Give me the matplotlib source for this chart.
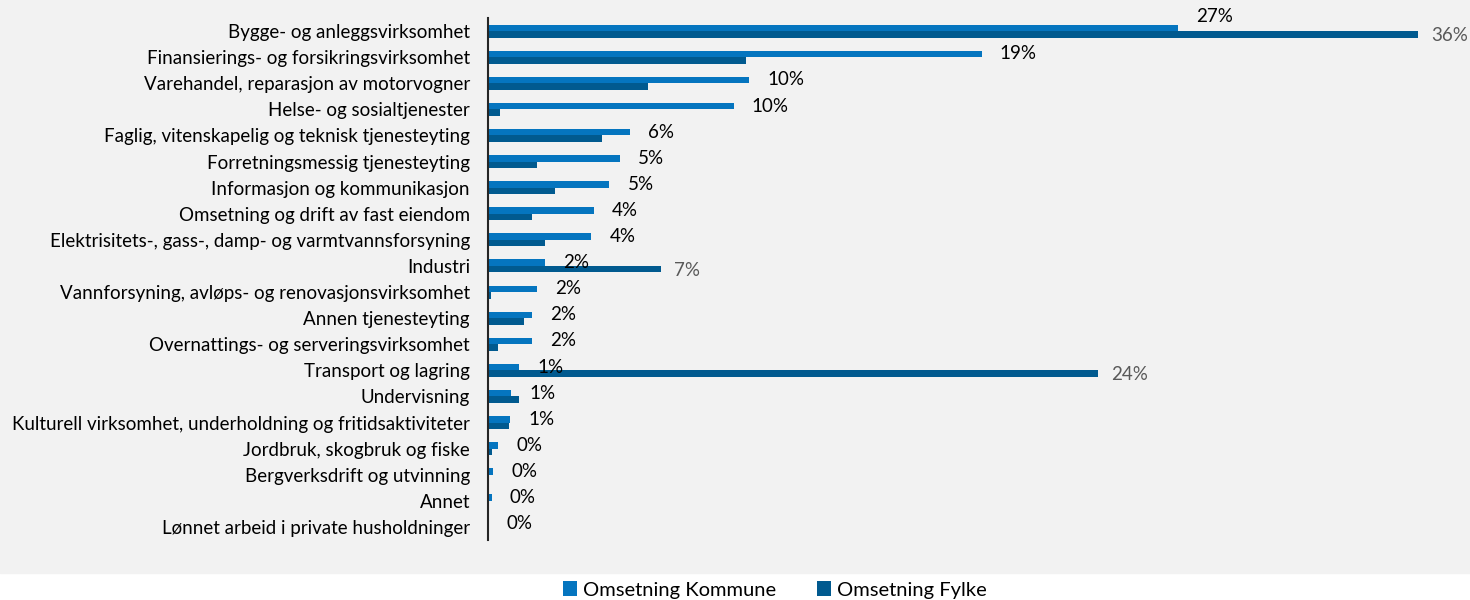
import matplotlib.pyplot as plt
import matplotlib.patches as mpatches
import numpy as np

plt.rcParams['font.family'] = ['Lato', 'DejaVu Sans']

kategorier = [
    'Bygge- og anleggsvirksomhet',
    'Finansierings- og forsikringsvirksomhet',
    'Varehandel, reparasjon av motorvogner',
    'Helse- og sosialtjenester',
    'Faglig, vitenskapelig og teknisk tjenesteyting',
    'Forretningsmessig tjenesteyting',
    'Informasjon og kommunikasjon',
    'Omsetning og drift av fast eiendom',
    'Elektrisitets-, gass-, damp- og varmtvannsforsyning',
    'Industri',
    'Vannforsyning, avløps- og renovasjonsvirksomhet',
    'Annen tjenesteyting',
    'Overnattings- og serveringsvirksomhet',
    'Transport og lagring',
    'Undervisning',
    'Kulturell virksomhet, underholdning og fritidsaktiviteter',
    'Jordbruk, skogbruk og fiske',
    'Bergverksdrift og utvinning',
    'Annet',
    'Lønnet arbeid i private husholdninger',
]
kommune = [26.7, 19.1, 10.1, 9.5, 5.5, 5.1, 4.7, 4.1, 4.0, 2.2,
           1.9, 1.7, 1.7, 1.2, 0.9, 0.85, 0.4, 0.2, 0.15, 0.0]
fylke = [36.0, 10.0, 6.2, 0.45, 4.4, 1.9, 2.6, 1.7, 2.2, 6.7,
         0.1, 1.4, 0.4, 23.6, 1.2, 0.8, 0.15, 0.05, 0.03, 0.0]
# fylke labels only shown where fylke exceeds kommune strongly
vis_fylke = ['Bygge- og anleggsvirksomhet', 'Industri', 'Transport og lagring']

c_kom = '#0575bf'
c_fyl = '#015a8f'

fig = plt.figure(figsize=(14.7, 6), dpi=100, facecolor='white')
bg = mpatches.Rectangle((0, 1 - 573 / 600), 1, 573 / 600,
                        transform=fig.transFigure, color='#f2f2f2', zorder=-10)
fig.add_artist(bg)
ax = fig.add_axes([488 / 1470, 0.1, 1 - 488 / 1470, 0.87])
ax.patch.set_alpha(0)

y = np.arange(len(kategorier))
h = 0.25
ax.barh(y - h / 2, kommune, height=h, color=c_kom, label='Omsetning Kommune')
ax.barh(y + h / 2, fylke, height=h, color=c_fyl, label='Omsetning Fylke')

for i, (k, f) in enumerate(zip(kommune, fylke)):
    dy = -0.45 if i == 0 else 0
    ax.text(k + 0.7, i - h / 2 + dy, f'{k:.0f}%', va='center', ha='left',
            fontsize=13.5, color='black')
    if kategorier[i] in vis_fylke:
        ax.text(f + 0.5, i + h / 2 + 0.05, f'{f:.0f}%', va='center', ha='left',
                fontsize=13.5, color='#595959')

ax.set_yticks(y)
ax.set_yticklabels(kategorier, fontsize=13.5)
ax.tick_params(axis='y', length=0, pad=13)
ax.set_ylim(len(kategorier) - 0.5, -0.5)
ax.set_xlim(0, 38)
ax.set_xticks([])
for s in ['top', 'right', 'bottom']:
    ax.spines[s].set_visible(False)
ax.spines['left'].set_color('#262626')
ax.spines['left'].set_linewidth(1.5)

fig.legend(loc='center', bbox_to_anchor=(775 / 1470, 1 - 590 / 600), ncol=2,
           frameon=False, fontsize=14.5, handlelength=0.7, handleheight=0.7,
           handletextpad=0.3, columnspacing=2.0)

fig.savefig('out.png', dpi=100)
